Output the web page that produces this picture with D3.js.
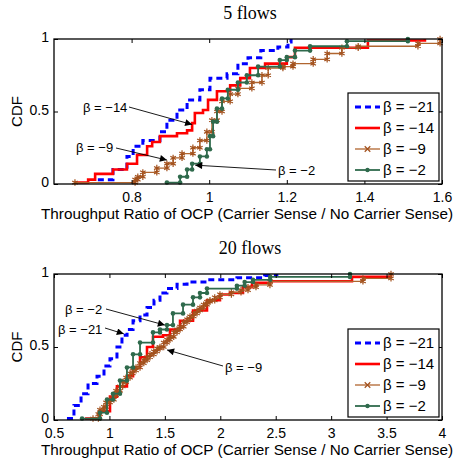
<!DOCTYPE html>
<html>
<head>
<meta charset="utf-8">
<script src="https://cdn.jsdelivr.net/npm/d3@7"></script>
<style>
  body { margin: 0; background: #fff; }
  svg { display: block; }
  .tick text { font-family: "Liberation Sans", Arial, sans-serif; font-size: 14px; fill: #000; }
</style>
</head>
<body>
<script>
// legend names, same for both panels
var seriesNames = ["β = −21", "β = −14", "β = −9", "β = −2"];

// 5 flows : [ratio, cdf] step points
var flows5_b21 = [[0.713,0.03],[0.752,0.1],[0.788,0.19],[0.804,0.26],[0.829,0.3],[0.873,0.36],[0.891,0.44],[0.917,0.51],[0.943,0.58],[0.976,0.65],[1.002,0.73],[1.046,0.76],[1.074,0.83],[1.1,0.87],[1.133,0.92],[1.177,0.945],[1.203,0.98],[1.211,1.0]];
var flows5_b14 = [[0.654,0.01],[0.688,0.03],[0.706,0.07],[0.752,0.1],[0.788,0.14],[0.814,0.2],[0.84,0.26],[0.853,0.29],[0.873,0.33],[0.917,0.35],[0.943,0.37],[0.956,0.42],[0.963,0.49],[0.984,0.51],[0.997,0.58],[1.02,0.64],[1.054,0.68],[1.08,0.73],[1.105,0.8],[1.144,0.83],[1.2,0.875],[1.221,0.94],[1.409,0.99],[1.556,1.0]];
var flows5_b9 = [[0.654,0.01],[0.809,0.03],[0.816,0.05],[0.829,0.08],[0.865,0.11],[0.891,0.14],[0.907,0.18],[0.93,0.21],[0.958,0.25],[0.976,0.3],[0.994,0.36],[1.007,0.44],[1.02,0.5],[1.033,0.57],[1.054,0.62],[1.074,0.66],[1.11,0.7],[1.136,0.75],[1.152,0.8],[1.19,0.81],[1.216,0.83],[1.268,0.86],[1.304,0.9],[1.342,0.94],[1.384,0.95],[1.538,0.97],[1.595,1.0]];
var flows5_b2 = [[0.891,0.01],[0.925,0.05],[0.943,0.1],[0.956,0.14],[0.976,0.19],[0.994,0.24],[1.002,0.33],[1.01,0.43],[1.02,0.52],[1.033,0.59],[1.048,0.65],[1.074,0.7],[1.097,0.75],[1.126,0.81],[1.182,0.855],[1.2,0.875],[1.221,0.92],[1.26,0.95],[1.355,0.985],[1.512,1.0]];

// 20 flows
var flows20_b21 = [[0.617,0.01],[0.68,0.1],[0.744,0.18],[0.807,0.25],[0.888,0.3],[0.951,0.37],[1.005,0.42],[1.068,0.5],[1.113,0.58],[1.159,0.62],[1.213,0.68],[1.276,0.72],[1.339,0.77],[1.402,0.82],[1.456,0.87],[1.519,0.9],[1.61,0.93],[1.7,0.945],[1.88,0.96],[2.15,0.975],[2.4,0.99],[2.51,1.0]];
var flows20_b14 = [[0.78,0.01],[0.915,0.06],[1.005,0.16],[1.068,0.23],[1.158,0.3],[1.213,0.36],[1.276,0.43],[1.339,0.5],[1.393,0.57],[1.483,0.58],[1.546,0.62],[1.637,0.68],[1.754,0.75],[1.88,0.82],[1.997,0.86],[2.088,0.87],[2.205,0.91],[2.286,0.94],[2.448,0.95],[3.188,0.98],[3.54,1.0]];
var flows20_b9 = [[0.852,0.01],[0.9,0.04],[0.915,0.07],[0.95,0.09],[0.97,0.12],[1.005,0.14],[1.04,0.17],[1.06,0.2],[1.095,0.23],[1.12,0.26],[1.15,0.29],[1.186,0.32],[1.21,0.34],[1.24,0.36],[1.276,0.39],[1.31,0.41],[1.34,0.43],[1.366,0.45],[1.4,0.47],[1.43,0.49],[1.456,0.5],[1.49,0.53],[1.52,0.55],[1.546,0.57],[1.58,0.6],[1.61,0.62],[1.637,0.64],[1.67,0.67],[1.7,0.69],[1.727,0.71],[1.76,0.73],[1.79,0.75],[1.817,0.77],[1.85,0.79],[1.88,0.81],[1.907,0.82],[1.95,0.84],[1.997,0.86],[2.1,0.875],[2.187,0.89],[2.25,0.91],[2.322,0.925],[2.448,0.95],[3.287,0.97],[3.54,1.0]];
var flows20_b2 = [[0.753,0.01],[0.915,0.05],[0.978,0.14],[1.032,0.18],[1.095,0.27],[1.158,0.36],[1.213,0.45],[1.276,0.53],[1.393,0.6],[1.456,0.62],[1.519,0.65],[1.573,0.73],[1.664,0.79],[1.754,0.84],[1.817,0.87],[1.88,0.9],[2.15,0.92],[2.22,0.945],[2.295,0.96],[2.45,0.98],[3.17,1.0]];

// axis ticks
var xTicks5 = [0.8, 1, 1.2, 1.4, 1.6];
var xTicks20 = [0.5, 1, 1.5, 2, 2.5, 3, 3.5, 4];
var yTicks = [0, 0.5, 1];

var W = 457, H = 461;
var svg = d3.select("body").append("svg").attr("width", W).attr("height", H);

svg.append("defs").append("marker")
    .attr("id", "arrow")
    .attr("viewBox", "0 0 10 10")
    .attr("refX", 10).attr("refY", 5)
    .attr("markerWidth", 9).attr("markerHeight", 7)
    .attr("markerUnits", "userSpaceOnUse")
    .attr("orient", "auto")
  .append("path")
    .attr("d", "M0,0 L10,5 L0,10 z")
    .attr("fill", "#000");

var styles = [
  {color: "#0000ff", width: 3, dash: "6,4", marker: null},
  {color: "#ff0000", width: 2.6, dash: null, marker: null},
  {color: "#b0652f", width: 1.3, dash: null, marker: "x"},
  {color: "#2f6a4c", width: 1.8, dash: null, marker: "dot"}
];

function stepCorners(pts) {
  // corners of a step-after path
  var out = [];
  pts.forEach(function(p, i) {
    if (i > 0) out.push([p[0], pts[i - 1][1]]);
    out.push(p);
  });
  return out;
}

function panel(opt) {
  var g = svg.append("g");
  var x = d3.scaleLinear().domain(opt.xDomain).range([opt.left, opt.right]);
  var y = d3.scaleLinear().domain([0, 1]).range([opt.bottom, opt.top]);

  // title
  g.append("text")
    .attr("x", (opt.left + opt.right) / 2 + 2)
    .attr("y", opt.top - 20)
    .attr("text-anchor", "middle")
    .style("font-family", "'Liberation Serif', 'Times New Roman', serif")
    .style("font-size", "18px")
    .text(opt.title);

  // lines
  var line = d3.line()
    .x(function(d) { return x(d[0]); })
    .y(function(d) { return y(d[1]); })
    .curve(d3.curveStepAfter);

  opt.series.forEach(function(s, i) {
    var st = styles[i];
    g.append("path")
      .datum(s)
      .attr("fill", "none")
      .attr("stroke", st.color)
      .attr("stroke-width", st.width)
      .attr("stroke-dasharray", st.dash)
      .attr("d", line);
    if (st.marker == "x") {
      g.append("g").selectAll("path")
        .data(stepCorners(s))
        .enter().append("path")
          .attr("transform", function(d) { return "translate(" + x(d[0]) + "," + y(d[1]) + ")"; })
          .attr("d", d3.symbol().type(d3.symbolAsterisk).size(28))
          .attr("fill", "none")
          .attr("stroke", "#a2501c")
          .attr("stroke-width", 1.2);
    } else if (st.marker == "dot") {
      g.append("g").selectAll("circle")
        .data(stepCorners(s))
        .enter().append("circle")
          .attr("cx", function(d) { return x(d[0]); })
          .attr("cy", function(d) { return y(d[1]); })
          .attr("r", 2.3)
          .attr("fill", st.color);
    }
  });

  // axes, matlab style ticks pointing in
  g.append("g")
    .attr("transform", "translate(0," + opt.bottom + ")")
    .call(d3.axisBottom(x).tickValues(opt.xTicks).tickSizeInner(-4).tickSizeOuter(0).tickPadding(8).tickFormat(d3.format("")))
    .call(function(a) { a.select(".domain").remove(); a.selectAll("text").attr("dy", "0.71em"); });
  g.append("g")
    .attr("transform", "translate(0," + opt.top + ")")
    .call(d3.axisTop(x).tickValues(opt.xTicks).tickSizeInner(-4).tickSizeOuter(0).tickFormat(""))
    .call(function(a) { a.select(".domain").remove(); });
  g.append("g")
    .attr("transform", "translate(" + opt.left + ",0)")
    .call(d3.axisLeft(y).tickValues(yTicks).tickSizeInner(-4).tickSizeOuter(0).tickPadding(5).tickFormat(d3.format("")))
    .call(function(a) { a.select(".domain").remove(); a.selectAll("text").attr("dy", "0.2em"); });
  g.append("g")
    .attr("transform", "translate(" + opt.right + ",0)")
    .call(d3.axisRight(y).tickValues(yTicks).tickSizeInner(-4).tickSizeOuter(0).tickFormat(""))
    .call(function(a) { a.select(".domain").remove(); });

  g.append("rect")
    .attr("x", opt.left).attr("y", opt.top)
    .attr("width", opt.right - opt.left).attr("height", opt.bottom - opt.top)
    .attr("fill", "none").attr("stroke", "#000").attr("stroke-width", 1.3);

  // axis labels
  g.append("text")
    .attr("x", 247).attr("y", opt.bottom + 35)
    .attr("text-anchor", "middle")
    .style("font-family", "'Liberation Sans', Arial, sans-serif")
    .style("font-size", "15.3px")
    .text("Throughput Ratio of OCP (Carrier Sense / No Carrier Sense)");
  g.append("text")
    .attr("transform", "translate(22," + (opt.top + opt.bottom) / 2 + ") rotate(-90)")
    .attr("text-anchor", "middle")
    .style("font-family", "'Liberation Sans', Arial, sans-serif")
    .style("font-size", "15px")
    .text("CDF");

  // legend
  var lg = g.append("g");
  lg.append("rect")
    .attr("x", opt.legend[0]).attr("y", opt.legend[1])
    .attr("width", 91).attr("height", 88)
    .attr("fill", "#fff").attr("stroke", "#000").attr("stroke-width", 1.2);
  seriesNames.forEach(function(name, i) {
    var st = styles[i];
    var ly = opt.legend[1] + 14 + i * 21;
    var x0 = opt.legend[0] + 7, x1 = opt.legend[0] + 32;
    lg.append("line")
      .attr("x1", x0).attr("x2", x1).attr("y1", ly).attr("y2", ly)
      .attr("stroke", st.color).attr("stroke-width", st.width)
      .attr("stroke-dasharray", st.dash);
    if (st.marker == "x") {
      lg.append("path")
        .attr("transform", "translate(" + (x0 + x1) / 2 + "," + ly + ")")
        .attr("d", d3.symbol().type(d3.symbolTimes).size(22))
        .attr("fill", "none").attr("stroke", "#a2501c").attr("stroke-width", 1.2);
    } else if (st.marker == "dot") {
      lg.append("circle")
        .attr("cx", (x0 + x1) / 2).attr("cy", ly).attr("r", 2.2).attr("fill", st.color);
    }
    lg.append("text")
      .attr("x", x1 + 3).attr("y", ly + 5)
      .style("font-family", "'Liberation Sans', Arial, sans-serif")
      .style("font-size", "15px")
      .text(name);
  });

  // annotations
  opt.notes.forEach(function(n) {
    g.append("text")
      .attr("x", n.tx).attr("y", n.ty)
      .attr("text-anchor", n.anchor || "start")
      .style("font-family", "'Liberation Sans', Arial, sans-serif")
      .style("font-size", "13px")
      .text(n.text);
    g.append("line")
      .attr("x1", n.from[0]).attr("y1", n.from[1])
      .attr("x2", x(n.to[0])).attr("y2", y(n.to[1]))
      .attr("stroke", "#000").attr("stroke-width", 0.9)
      .attr("marker-end", "url(#arrow)");
  });
}

panel({
  title: "5 flows",
  left: 54, right: 442, top: 39, bottom: 184,
  xDomain: [0.6, 1.6], xTicks: xTicks5,
  series: [flows5_b21, flows5_b14, flows5_b9, flows5_b2],
  legend: [348, 93],
  notes: [
    {text: "β = −14", tx: 83, ty: 112, from: [129, 107], to: [0.956, 0.41]},
    {text: "β = −9", tx: 76, ty: 152, from: [116, 148], to: [0.891, 0.165]},
    {text: "β = −2", tx: 278, ty: 175, from: [276, 170], to: [0.964, 0.13]}
  ]
});

panel({
  title: "20 flows",
  left: 54, right: 442, top: 274, bottom: 420,
  xDomain: [0.5, 4], xTicks: xTicks20,
  series: [flows20_b21, flows20_b14, flows20_b9, flows20_b2],
  legend: [348, 329],
  notes: [
    {text: "β = −2", tx: 65, ty: 314, from: [106, 309], to: [1.5, 0.65]},
    {text: "β = −21", tx: 58, ty: 334, from: [105, 328], to: [1.13, 0.59]},
    {text: "β = −9", tx: 225, ty: 372, from: [223, 366], to: [1.52, 0.48]}
  ]
});
</script>
</body>
</html>
